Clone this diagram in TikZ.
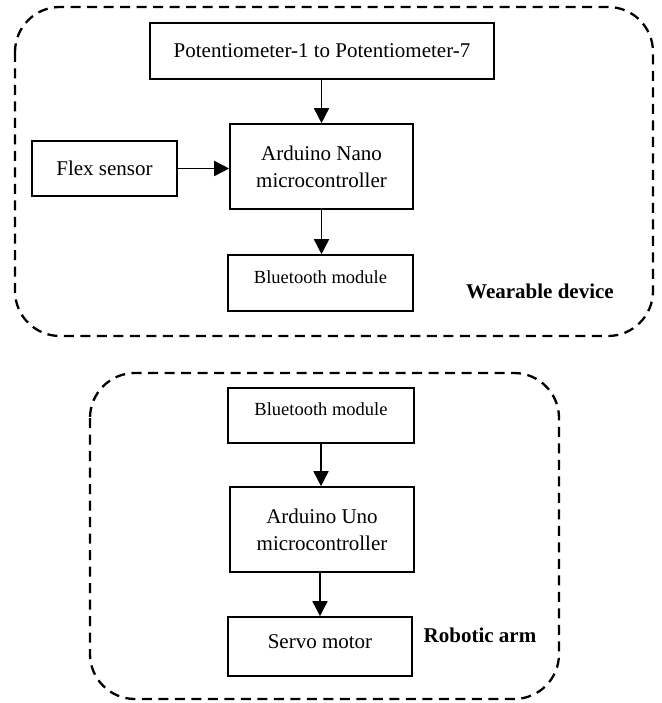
\documentclass[tikz,border=0pt]{standalone}
\usepackage{fontspec}
\setmainfont{Liberation Serif}
\usetikzlibrary{arrows.meta}
\begin{document}
\begin{tikzpicture}[x=1pt,y=-1pt,
  blk/.style={draw, line width=1.6pt, inner sep=0pt, align=center, font=\fontsize{21}{27}\selectfont},
  smallblk/.style={blk, font=\fontsize{18.5}{24}\selectfont, text depth=12pt},
  arr/.style={line width=1.6pt, -{Triangle[length=15pt,width=15pt]}},
  grp/.style={draw, line width=2.3pt, dash pattern=on 10pt off 6.5pt, rounded corners=45pt},
  grplabel/.style={font=\fontsize{21}{25}\selectfont\bfseries}]
\useasboundingbox (0,0) rectangle (661,703);
% group outlines
\draw[grp] (15,7) rectangle (653,336);
\draw[grp] (90,373) rectangle (559,699);
% wearable device
\node[blk, minimum width=344pt, minimum height=56pt] (pot) at (322,51) {Potentiometer-1 to Potentiometer-7};
\node[blk, minimum width=145pt, minimum height=55pt] (flex) at (104.5,168.5) {Flex sensor};
\node[blk, minimum width=183pt, minimum height=85pt] (nano) at (321.5,166.5) {Arduino Nano\\microcontroller};
\node[smallblk, minimum width=185pt, minimum height=56pt] (bt1) at (320.5,283) {Bluetooth module};
\node[grplabel] (wd) at (540,291) {Wearable device};
\draw[arr] (pot.south -| nano.north) -- (nano.north);
\draw[arr] (flex.east) -- (flex.east -| nano.west);
\draw[arr] (nano.south) -- (nano.south |- bt1.north);
% robotic arm
\node[smallblk, minimum width=186pt, minimum height=55pt] (bt2) at (321,415.5) {Bluetooth module};
\node[blk, minimum width=184pt, minimum height=85pt] (uno) at (322,529.5) {Arduino Uno\\microcontroller};
\node[blk, minimum width=184pt, minimum height=59pt, text depth=10pt] (servo) at (320,646.5) {Servo motor};
\node[grplabel] (ra) at (480,635) {Robotic arm};
\draw[arr] (bt2.south) -- (bt2.south |- uno.north);
\draw[arr] (uno.south -| servo.north) -- (servo.north);
\end{tikzpicture}
\end{document}
